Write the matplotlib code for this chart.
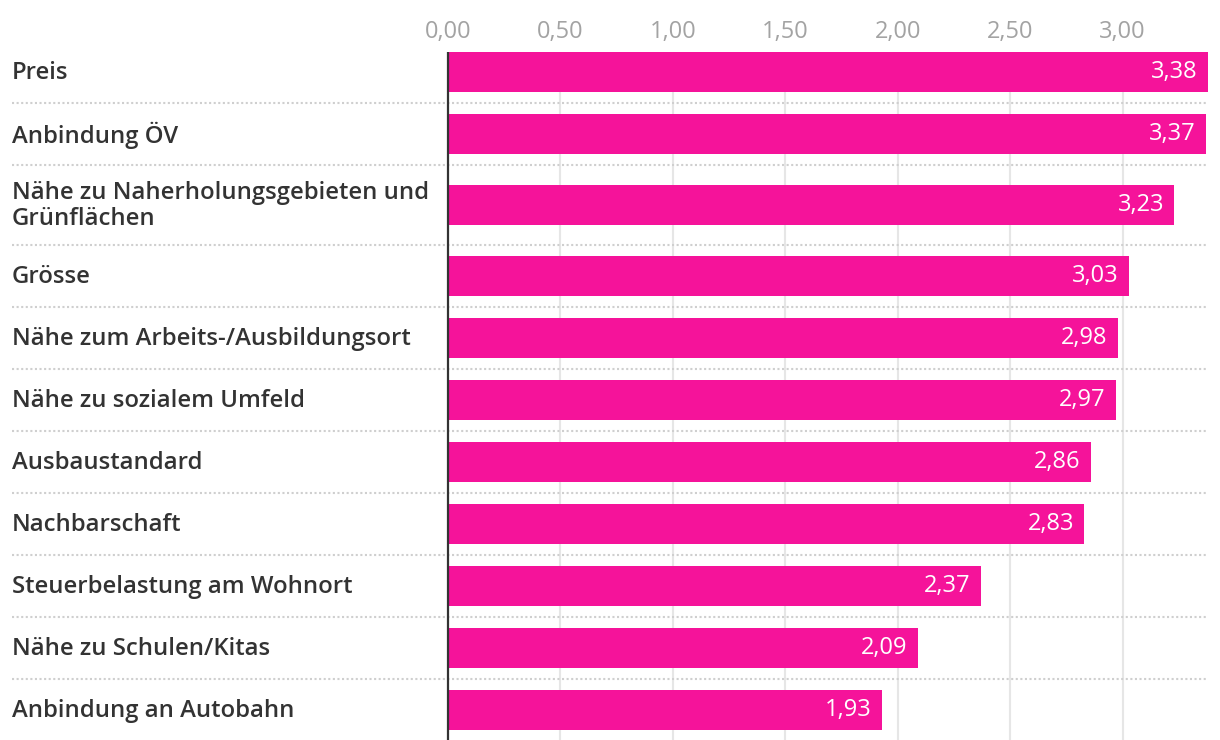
import numpy as np
import matplotlib.pyplot as plt

categories = ['Preis', 'Anbindung ÖV', 'Nähe zu Naherholungsgebieten und\nGrünflächen', 'Grösse',
              'Nähe zum Arbeits-/Ausbildungsort', 'Nähe zu sozialem Umfeld', 'Ausbaustandard',
              'Nachbarschaft', 'Steuerbelastung am Wohnort', 'Nähe zu Schulen/Kitas',
              'Anbindung an Autobahn']
values = [3.38, 3.37, 3.23, 3.03, 2.98, 2.97, 2.86, 2.83, 2.37, 2.09, 1.93]
ticks = [0, 0.5, 1.0, 1.5, 2.0, 2.5, 3.0]

pink = '#f5139a'
plt.rcParams['font.family'] = ['Open Sans', 'DejaVu Sans']

# row layout: two-line labels get a taller row
row_h = np.array([1.29 if '\n' in c else 1.0 for c in categories])
bounds = np.concatenate([[0], np.cumsum(row_h)])
centers = bounds[:-1] + row_h / 2
bar_h = 0.645

W, H = 1220, 740
fig = plt.figure(figsize=(W / 100, H / 100), dpi=100)
# axes from x=12px to 1208px, y from 52px to bottom
ax = fig.add_axes([12 / W, 0, (1208 - 12) / W, (H - 52) / H])

px_per_unit = (1122.7 - 448) / 3.0
xmin = -(448 - 12) / px_per_unit
xmax = (1208 - 448) / px_per_unit
ax.set_xlim(xmin, xmax)
top = bounds[0] + 11 / 62
bottom = top + (H - 52) / 62
ax.set_ylim(bottom, top)

for t in ticks[1:]:
    ax.axvline(t, color='#e6e6e6', lw=1.5, zorder=0)

for b in bounds[1:-1]:
    ax.axhline(b, color='#cfcfcf', lw=1.5, linestyle=(0, (1, 1.2)), zorder=1)

ax.barh(centers, values, height=bar_h, color=pink, zorder=2)
ax.axvline(0, color='#333333', lw=1.6, zorder=3)

for y, v, c in zip(centers, values, categories):
    ax.annotate(f'{v:.2f}'.replace('.', ','), (v, y), xytext=(-7.5, 0), textcoords='offset points',
                ha='right', va='center', color='white', fontsize=17, zorder=4)
    ax.text(0.0, y + 0.02, c, transform=ax.get_yaxis_transform(), ha='left', va='center',
            fontsize=17.2, fontweight='semibold', color='#333333', linespacing=1.12)

ax.xaxis.tick_top()
ax.set_xticks(ticks)
ax.set_xticklabels([f'{t:.2f}'.replace('.', ',') for t in ticks], fontsize=17,
                   color='#a3a3a3')
ax.tick_params(axis='x', length=0, pad=6)
ax.set_yticks([])
for s in ax.spines.values():
    s.set_visible(False)

fig.savefig('out.png', dpi=100)
